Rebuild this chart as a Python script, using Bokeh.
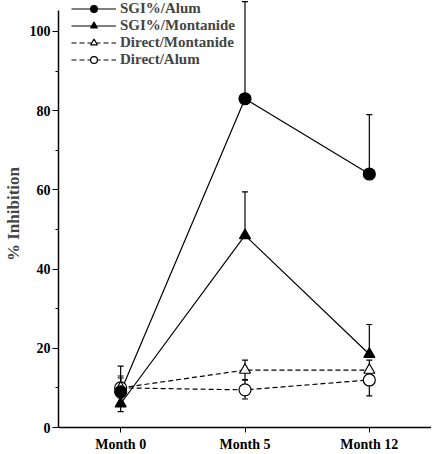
from bokeh.plotting import figure
from bokeh.models import (FactorRange, Range1d, Whisker, TeeHead, ColumnDataSource,
                          Legend, LegendItem, FixedTicker)
from bokeh.embed import file_html
from bokeh.resources import INLINE

months = ["Month 0", "Month 5", "Month 12"]

sgi_alum = [9.0, 83.0, 64.0]
sgi_alum_up = [6.5, 24.5, 15.0]
sgi_alum_down = [0.0, 0.0, 0.0]

sgi_mont = [6.0, 48.5, 18.5]
sgi_mont_up = [0.0, 11.0, 7.5]
sgi_mont_down = [2.0, 0.0, 0.0]

dir_mont = [10.0, 14.5, 14.5]
dir_mont_up = [3.0, 2.5, 2.5]
dir_mont_down = [2.0, 2.5, 2.0]

dir_alum = [10.0, 9.5, 12.0]
dir_alum_up = [2.5, 2.5, 2.0]
dir_alum_down = [2.5, 2.3, 4.0]

y_ticks = [0, 20, 40, 60, 80, 100]
y_minor = [10, 30, 50, 70, 90]

FONT = "Liberation Serif"

p = figure(width=431, height=454, x_range=FactorRange(*months, range_padding=0),
           y_range=Range1d(0, 107.8), output_backend="svg", toolbar_location=None,
           min_border_left=49, min_border_right=0, min_border_top=0, min_border_bottom=0)
p.xgrid.visible = False
p.ygrid.visible = False
p.outline_line_color = None

# axes
p.yaxis.ticker = FixedTicker(ticks=y_ticks, minor_ticks=y_minor)
p.yaxis.bounds = (0, 105.3)
for ax in (p.xaxis, p.yaxis):
    ax.axis_line_width = 1.5
    ax.major_tick_in = 0
    ax.major_tick_out = 5
    ax.minor_tick_in = 0
    ax.minor_tick_out = 3
    ax.major_label_text_font = FONT
    ax.major_label_text_font_style = "bold"
    ax.major_label_text_font_size = "14px"
    ax.major_label_text_color = "black"
p.yaxis.major_tick_out = 6
p.yaxis.major_label_standoff = 2
p.xaxis.major_label_standoff = 4
p.yaxis.axis_label = "% Inhibition"
p.yaxis.axis_label_text_font = FONT
p.yaxis.axis_label_text_font_style = "bold"
p.yaxis.axis_label_text_font_size = "17px"
p.yaxis.axis_label_standoff = 4

series = [
    ("SGI%/Alum", sgi_alum, sgi_alum_up, sgi_alum_down, "solid", "circle", "black"),
    ("SGI%/Montanide", sgi_mont, sgi_mont_up, sgi_mont_down, "solid", "triangle", "black"),
    ("Direct/Montanide", dir_mont, dir_mont_up, dir_mont_down, "5 3", "triangle", "white"),
    ("Direct/Alum", dir_alum, dir_alum_up, dir_alum_down, "5 3", "circle", "white"),
]

sources = {}
lines = {}
# error bars and lines first
for name, vals, up, down, dash, marker, fill in series:
    src = ColumnDataSource(dict(x=months, y=vals))
    sources[name] = src
    ux = [m for m, u in zip(months, up) if u > 0]
    uy0 = [v for v, u in zip(vals, up) if u > 0]
    uy1 = [v + u for v, u in zip(vals, up) if u > 0]
    dx = [m for m, d in zip(months, down) if d > 0]
    dy0 = [v for v, d in zip(vals, down) if d > 0]
    dy1 = [v - d for v, d in zip(vals, down) if d > 0]
    if ux:
        usrc = ColumnDataSource(dict(x=ux, lo=uy0, hi=uy1))
        p.add_layout(Whisker(source=usrc, base="x", lower="lo", upper="hi", dimension="height",
                             line_color="black", line_width=1.2, level="underlay",
                             upper_head=TeeHead(size=6, line_color="black", line_width=1.2),
                             lower_head=None))
    if dx:
        dsrc = ColumnDataSource(dict(x=dx, lo=dy1, hi=dy0))
        p.add_layout(Whisker(source=dsrc, base="x", lower="lo", upper="hi", dimension="height",
                             line_color="black", line_width=1.2, level="underlay",
                             lower_head=TeeHead(size=6, line_color="black", line_width=1.2),
                             upper_head=None))
    lines[name] = p.line("x", "y", source=src, line_color="black", line_width=1.2, line_dash=dash)

# markers: open ones first, filled ones on top
marks = {}
for name, vals, up, down, dash, marker, fill in reversed(series):
    size = 12 if marker == "circle" else 11
    marks[name] = p.scatter("x", "y", source=sources[name], marker=marker, size=size,
                            line_color="black", line_width=1.2, fill_color=fill)

legend = Legend(items=[LegendItem(label=s[0], renderers=[lines[s[0]], marks[s[0]]]) for s in series],
                location=(13, 359), padding=0, margin=0, spacing=0, label_height=17, glyph_height=17,
                glyph_width=45, label_standoff=4, border_line_color=None, background_fill_alpha=0,
                label_text_font=FONT, label_text_font_style="bold", label_text_font_size="15px")
p.add_layout(legend)

open("out.html", "w").write(file_html(p, INLINE))
